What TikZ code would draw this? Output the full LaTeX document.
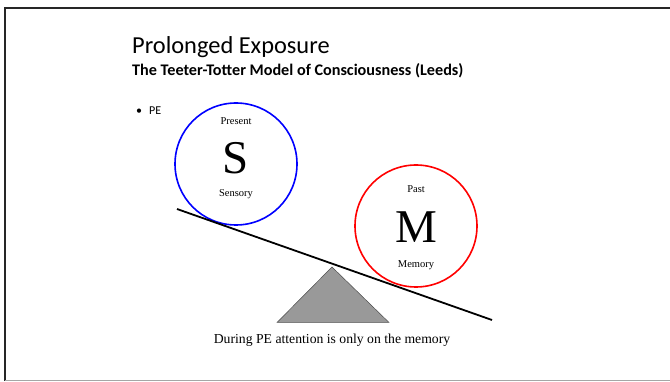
\documentclass[tikz,border=0pt]{standalone}
\usepackage{fontspec}
\setmainfont{Liberation Serif}
\newfontfamily\slidefont{Carlito}
\usepackage{tikz}
\usetikzlibrary{calc, positioning, backgrounds}

\begin{document}
\begin{tikzpicture}[
  x=1pt, y=-1pt,
  ttl/.style={anchor=base west, inner sep=0pt, font=\slidefont\fontsize{24.4}{27}\selectfont},
  subttl/.style={anchor=base west, inner sep=0pt, font=\slidefont\bfseries\fontsize{16.2}{19}\selectfont},
  bullet/.style={anchor=base west, inner sep=0pt, font=\slidefont\fontsize{12}{14}\selectfont},
  ring/.style={circle, line width=1.6pt, minimum size=122pt, inner sep=0pt},
  small/.style={inner sep=0pt, font=\fontsize{10.5}{12}\selectfont},
  big/.style={inner sep=0pt, font=\fontsize{47}{50}\selectfont},
  captxt/.style={inner sep=0pt, font=\fontsize{13.7}{16}\selectfont},
  beam/.style={line width=1.8pt, color=black},
  pivot/.style={fill=gray!80, draw=black!70, line width=0.5pt}
]
\useasboundingbox (0,0) rectangle (670,382);

%% ─── Marco de la diapositiva ───────────────────────────────
\draw[line width=1.6pt, black!85] (670,8) -- (5,8) -- (5,380.5);
\draw[line width=1.6pt, gray!70] (5,380.5) -- (670,380.5);

%% ─── Titulos ───────────────────────────────────────────────
\node[ttl]    (t1) at (132,54) {Prolonged Exposure};
\node[subttl] (t2) at (132,76) {The Teeter-Totter Model of Consciousness (Leeds)};
\node[bullet] (pe) at (136,115) {\textbullet\hspace{7pt}PE};

%% ─── Circulo S (azul) ──────────────────────────────────────
\node[ring, draw=blue] (s) at (236,164) {};
\node[small] (s1) at (236,121) {Present};
\node[big]   (s2) at (236,158) {S};
\node[small] (s3) at (236,194) {Sensory};

%% ─── Circulo M (rojo) ──────────────────────────────────────
\node[ring, draw=red] (m) at (416,226) {};
\node[small] (m1) at (416,189) {Past};
\node[big]   (m2) at (416,227) {M};
\node[small] (m3) at (416,265) {Memory};

%% ─── Balancin ──────────────────────────────────────────────
\coordinate (bl) at (177,209);
\coordinate (br) at (492,320);
\coordinate (ap) at (332,267);
\coordinate (pl) at (277,322.5);
\coordinate (pr) at (389,322.5);
\draw[pivot] (ap) -- (pr) -- (pl) -- cycle;
\draw[beam] (bl) -- (br);

\node[captxt] (c) at (332,340.5) {During PE attention is only on the memory};

\end{tikzpicture}
\end{document}
